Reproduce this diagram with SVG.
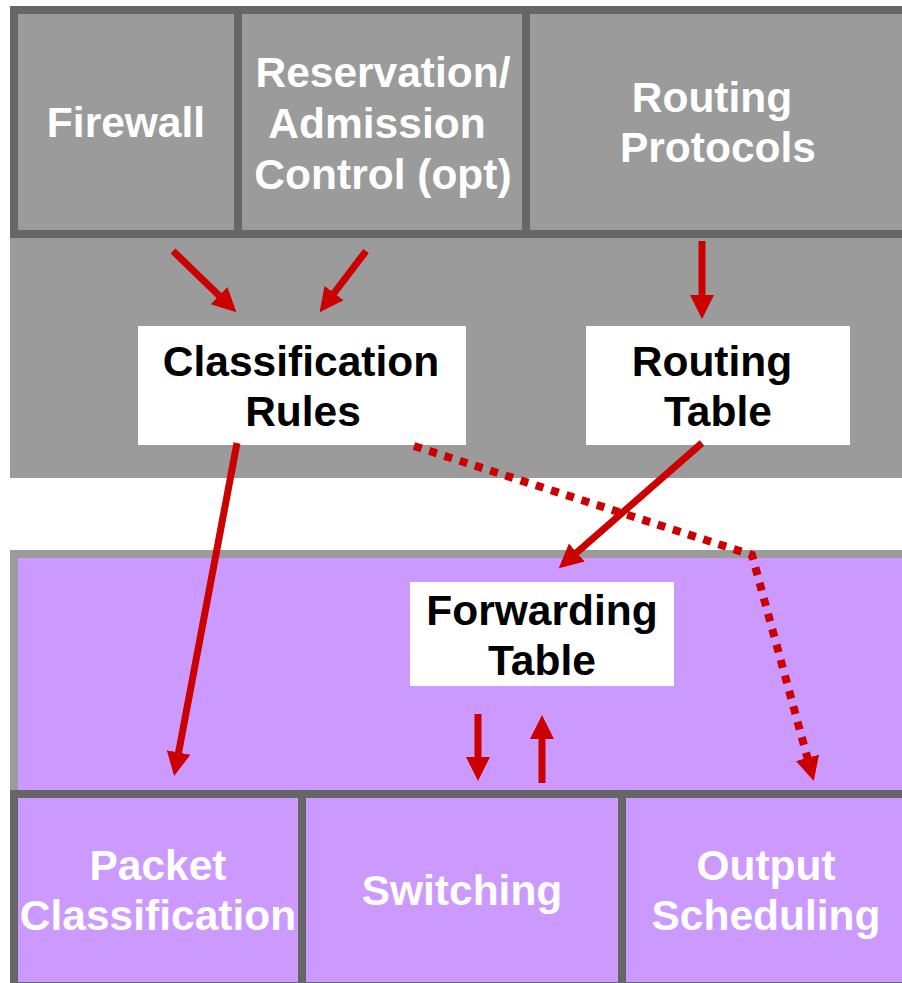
<svg xmlns="http://www.w3.org/2000/svg" width="902" height="983" viewBox="0 0 902 983">
  <style>
    .frame { fill: #666666; }
    .ctrl { fill: #9b9b9b; }
    .data { fill: #cc99ff; }
    .table { fill: #ffffff; }
    .lbl { font-family: "Liberation Sans", Arial, sans-serif; font-weight: bold; font-size: 42.5px; text-anchor: middle; }
    .w { fill: #ffffff; }
    .k { fill: #000000; }
    .arrow { stroke: #cc0000; stroke-width: 7; fill: none; marker-end: url(#head); }
    .dotted { stroke-width: 8; stroke-dasharray: 8 8; }
  </style>
  <defs>
    <marker id="head" markerUnits="userSpaceOnUse" markerWidth="26" markerHeight="26" viewBox="0 -13 26 26" refX="1" refY="0" orient="auto">
      <path d="M0,-12 L24,0 L0,12 Z" fill="#cc0000"/>
    </marker>
  </defs>

  <rect width="902" height="983" fill="#ffffff"/>

  <!-- control plane -->
  <rect class="ctrl" x="10" y="6" width="892" height="472"/>
  <rect class="frame" x="10" y="6" width="892" height="232"/>

  <g id="firewall">
    <rect class="ctrl" x="18" y="14" width="216" height="216"/>
    <text class="lbl w" x="126" y="137">Firewall</text>
  </g>
  <g id="reservation">
    <rect class="ctrl" x="242" y="14" width="280" height="216"/>
    <text class="lbl w" x="383" y="87">Reservation/</text>
    <text class="lbl w" x="377" y="138">Admission</text>
    <text class="lbl w" x="383" y="189">Control (opt)</text>
  </g>
  <g id="routing-protocols">
    <rect class="ctrl" x="530" y="14" width="372" height="216"/>
    <text class="lbl w" x="712" y="112">Routing</text>
    <text class="lbl w" x="718" y="162">Protocols</text>
  </g>

  <g id="classification-rules">
    <rect class="table" x="138" y="326" width="328" height="119"/>
    <text class="lbl k" x="301" y="376">Classification</text>
    <text class="lbl k" x="303" y="426">Rules</text>
  </g>
  <g id="routing-table">
    <rect class="table" x="586" y="326" width="264" height="119"/>
    <text class="lbl k" x="712" y="376">Routing</text>
    <text class="lbl k" x="718" y="426">Table</text>
  </g>

  <!-- data plane -->
  <rect class="ctrl" x="10" y="550" width="892" height="240"/>
  <rect class="data" x="18" y="558" width="884" height="232"/>
  <rect class="frame" x="10" y="790" width="892" height="193"/>

  <g id="forwarding-table">
    <rect class="table" x="410" y="582" width="264" height="104"/>
    <text class="lbl k" x="542" y="625">Forwarding</text>
    <text class="lbl k" x="542" y="675">Table</text>
  </g>

  <g id="packet-classification">
    <rect class="data" x="18" y="798" width="280" height="184"/>
    <text class="lbl w" x="158" y="880">Packet</text>
    <text class="lbl w" x="158" y="930">Classification</text>
  </g>
  <g id="switching">
    <rect class="data" x="306" y="798" width="312" height="184"/>
    <text class="lbl w" x="462" y="905">Switching</text>
  </g>
  <g id="output-scheduling">
    <rect class="data" x="626" y="798" width="276" height="184"/>
    <text class="lbl w" x="766" y="880">Output</text>
    <text class="lbl w" x="766" y="930">Scheduling</text>
  </g>

  <g id="connectors">
    <line class="arrow" x1="173" y1="251" x2="219.8" y2="296.3"/>
    <line class="arrow" x1="366" y1="251" x2="333.5" y2="293.9"/>
    <line class="arrow" x1="702" y1="241" x2="702" y2="296"/>
    <line class="arrow" x1="237" y1="443" x2="178.4" y2="753.4"/>
    <line class="arrow" x1="702" y1="443" x2="576.1" y2="553.2"/>
    <polyline class="arrow dotted" points="414,446 752,555 807.7,758.8"/>
    <line class="arrow" x1="478" y1="714" x2="478" y2="758"/>
    <line class="arrow" x1="542" y1="783" x2="542" y2="738"/>
  </g>
</svg>
